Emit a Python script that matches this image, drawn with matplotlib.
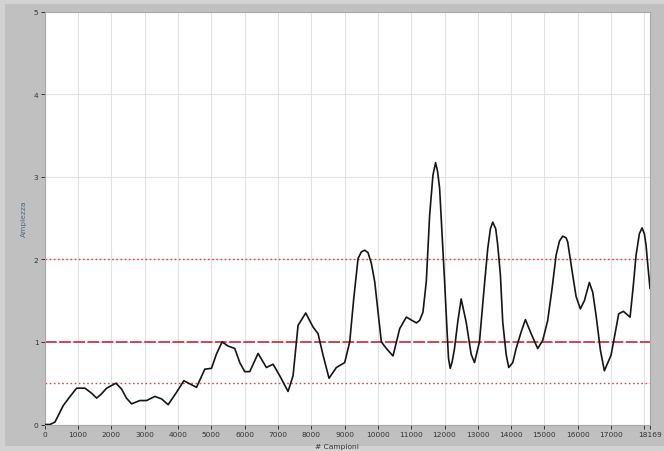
import numpy as np
import matplotlib.pyplot as plt
from matplotlib.patches import Rectangle

# sample index and amplitude of the envelope
campioni = [0, 156, 306, 555, 760, 956, 1205, 1400, 1556, 1700, 1856, 2135, 2305,
            2450, 2605, 2855, 3055, 3304, 3505, 3703, 3955, 4174, 4555, 4804, 5004,
            5150, 5322, 5502, 5703, 5853, 6003, 6153, 6403, 6653, 6853, 7053, 7303,
            7453, 7603, 7833, 8053, 8203, 8353, 8533, 8753, 9004, 9154, 9274, 9404,
            9504, 9604, 9704, 9804, 9904, 10104, 10254, 10454, 10654, 10854, 11154,
            11253, 11353, 11453, 11553, 11653, 11733, 11793, 11853, 11923, 12003,
            12083, 12120, 12171, 12230, 12300, 12400, 12500, 12650, 12800, 12900,
            13049, 13200, 13298, 13378, 13448, 13537, 13598, 13678, 13748, 13850,
            13928, 14050, 14150, 14300, 14429, 14600, 14798, 14950, 15098, 15230,
            15350, 15450, 15548, 15650, 15698, 15848, 15950, 16079, 16200, 16349,
            16450, 16550, 16680, 16799, 17000, 17120, 17229, 17370, 17571, 17660,
            17751, 17850, 17931, 17999, 18051, 18110, 18169]
ampiezza = [0.0, 0.0, 0.03, 0.23, 0.34, 0.44, 0.44, 0.38, 0.32, 0.37, 0.44, 0.50, 0.43,
            0.32, 0.25, 0.29, 0.29, 0.34, 0.31, 0.24, 0.39, 0.53, 0.45, 0.67, 0.68,
            0.85, 1.00, 0.95, 0.92, 0.75, 0.64, 0.64, 0.86, 0.69, 0.73, 0.59, 0.40,
            0.59, 1.20, 1.35, 1.18, 1.10, 0.84, 0.56, 0.69, 0.75, 1.00, 1.52, 2.01,
            2.09, 2.11, 2.08, 1.95, 1.73, 1.00, 0.92, 0.83, 1.16, 1.30, 1.23,
            1.26, 1.36, 1.73, 2.53, 3.02, 3.17, 3.06, 2.86, 2.33, 1.73,
            1.08, 0.80, 0.68, 0.76, 0.92, 1.25, 1.52, 1.24, 0.85, 0.75,
            1.00, 1.70, 2.13, 2.37, 2.45, 2.37, 2.17, 1.81, 1.24, 0.85,
            0.69, 0.75, 0.92, 1.12, 1.27, 1.10, 0.92, 1.02, 1.26, 1.65,
            2.05, 2.22, 2.28, 2.26, 2.21, 1.81, 1.55, 1.40, 1.50, 1.72,
            1.60, 1.32, 0.90, 0.65, 0.84, 1.10, 1.34, 1.37, 1.30, 1.65,
            2.05, 2.31, 2.38, 2.31, 2.17, 1.90, 1.65]

# threshold levels
soglie_punt = [0.5, 2.0]
soglia_tratt = 1.0

x_ticks = list(range(0, 18001, 1000)) + [18169]
x_labels = [str(t) for t in range(0, 18000, 1000)] + ['', '18169']
y_ticks = [0, 1, 2, 3, 4, 5]

fig = plt.figure(figsize=(6.64, 4.52), dpi=100)
fig.patch.set_facecolor('#d2d2d2')
# darker panel behind the graph
fig.patches.append(Rectangle((5 / 664, 5 / 452), 659 / 664, 442 / 452,
                             transform=fig.transFigure, facecolor='#c0c0c0',
                             edgecolor='none', zorder=-10))

ax = fig.add_axes([44.8 / 664, 1 - 425.5 / 452, (650 - 44.8) / 664, (425.5 - 12.5) / 452])
ax.set_facecolor('white')

ax.grid(True, color='#e2e2e2', lw=0.8)
ax.set_axisbelow(True)

for s in soglie_punt:
    ax.axhline(s, color='#e0404f', lw=1.0, ls=(0, (1.2, 1.8)), zorder=2)
ax.axhline(soglia_tratt, color='#c8283c', lw=1.2, ls=(0, (7, 1.5)), zorder=2)

ax.plot(campioni, ampiezza, color='#151515', lw=1.2, zorder=3,
        solid_joinstyle='round')

ax.set_xlim(0, 18169)
ax.set_ylim(0, 5)
ax.set_xticks(x_ticks)
ax.set_xticklabels(x_labels)
ax.set_yticks(y_ticks)
ax.tick_params(axis='both', labelsize=5.4, colors='#333333', length=3, width=0.7, pad=1.5)

for sp in ax.spines.values():
    sp.set_color('#a8a8a8')
    sp.set_linewidth(0.8)

ax.set_xlabel('# Campioni', fontsize=5.4, color='#333333')
ax.xaxis.set_label_coords((337 - 44.8) / (650 - 44.8), -0.045)
ax.set_ylabel('Ampiezza', fontsize=5.4, color='#4a6c88')
ax.yaxis.set_label_coords(-0.03, 0.5)

fig.savefig('out.png', dpi=100, facecolor=fig.get_facecolor())
